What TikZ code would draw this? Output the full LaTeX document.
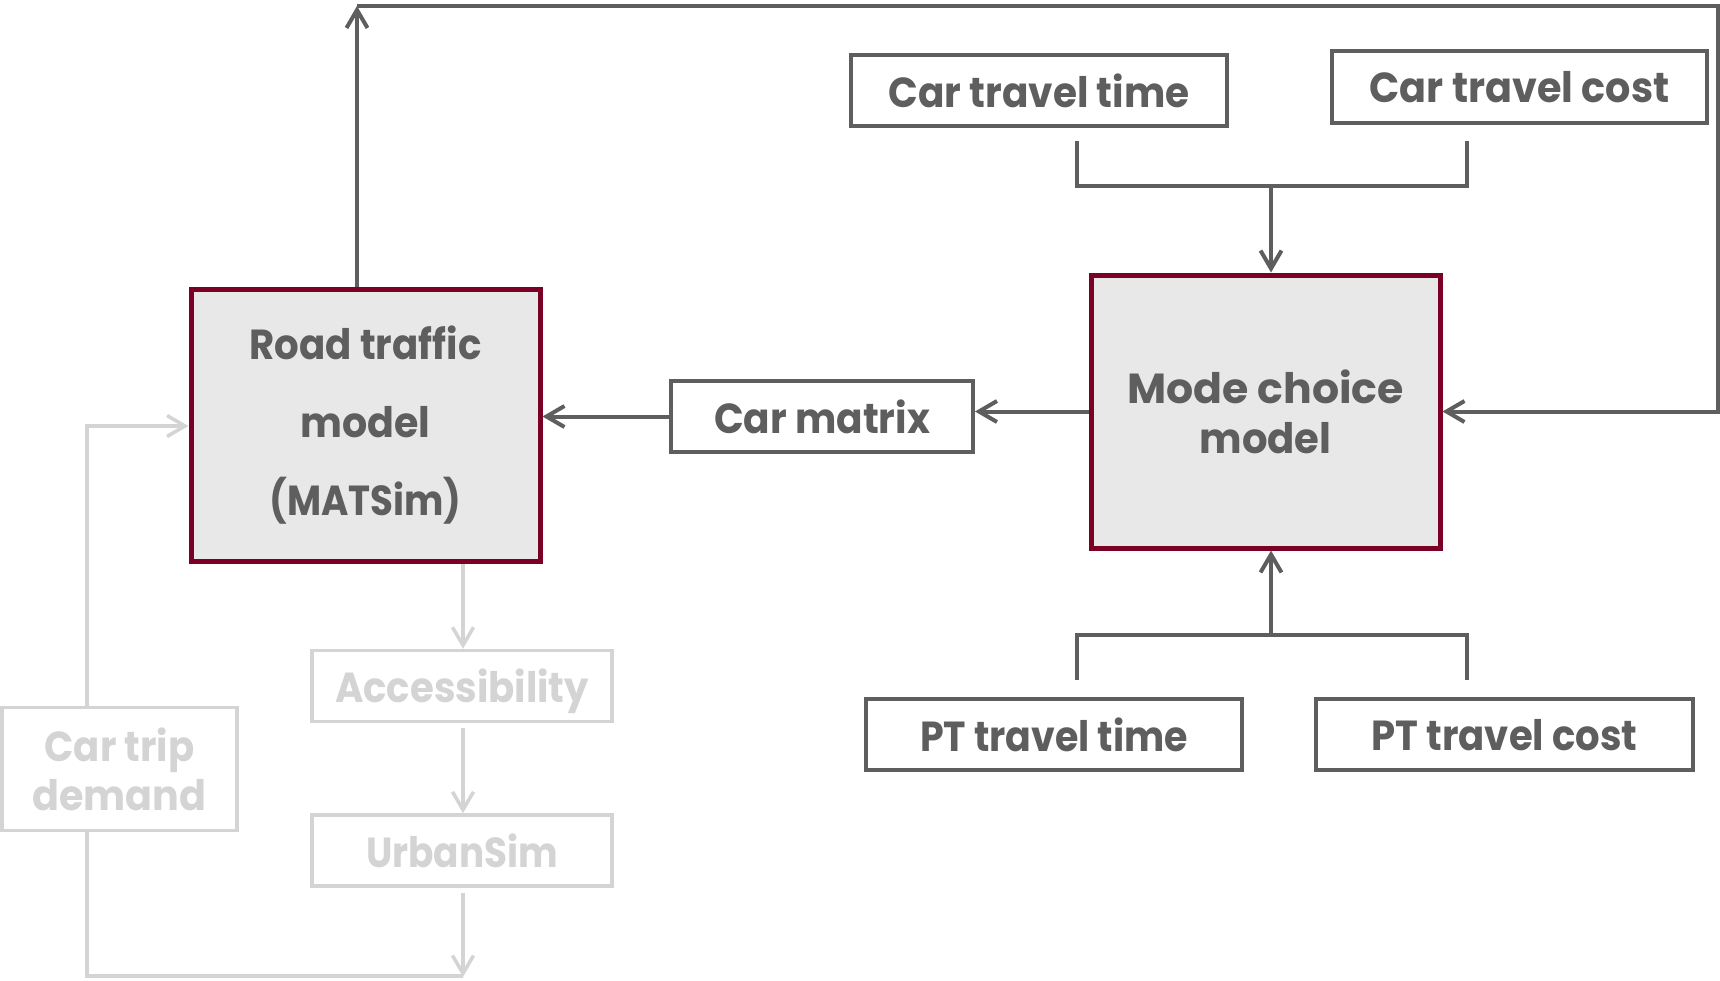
\documentclass[tikz,border=0pt]{standalone}
\usepackage{graphicx}
\usepackage{fontspec}
\setmainfont{Poppins}
\usetikzlibrary{arrows.meta}
\definecolor{dg}{RGB}{94,94,94}
\definecolor{lg}{RGB}{212,212,212}
\definecolor{mar}{RGB}{122,0,38}
\definecolor{boxfill}{RGB}{232,232,232}
\newlength\fitlen
\newcommand\fitw[2]{\settowidth\fitlen{#2}\pgfmathsetmacro\fitr{#1/\fitlen}\scalebox{\fitr}[1]{#2}}
\tikzset{
  mainbox/.style={draw=mar, line width=5pt, fill=boxfill, text=dg, minimum width=349pt, minimum height=272pt, align=center, inner sep=0pt},
  inbox/.style={draw=dg, line width=4pt, fill=white, text=dg, minimum height=71pt, inner sep=0pt, text depth=0pt},
  faint/.style={draw=lg, line width=3.5pt, fill=white, text=lg, minimum height=71pt, inner sep=0pt},
  link/.style={draw=dg, line width=4pt},
  flink/.style={draw=lg, line width=3.5pt},
  arr/.style={-{Straight Barb[length=18pt,width=21pt]}}
}
\begin{document}
\begin{tikzpicture}[x=1pt,y=-1pt,font=\fontsize{42}{50}\selectfont\bfseries]
\useasboundingbox (0,0) rectangle (1720,980);

% main boxes
\node[mainbox, font=\fontsize{42}{78}\selectfont\bfseries] (road) at (365.5,425)
  {\fitw{232}{Road traffic}\\\fitw{130}{model}\\\fitw{192}{(MATSim)}};
\node[mainbox, minimum height=273pt] (mode) at (1265.5,411.5)
  {\fitw{277}{Mode choice}\\\fitw{132}{model}};

% input boxes
\node[inbox, minimum width=376pt] (ctt) at (1039,90.5) {\fitw{301}{Car travel time}};
\node[inbox, minimum width=375pt, minimum height=72pt] (ctc) at (1519.5,86.5) {\fitw{300}{Car travel cost}};
\node[inbox, minimum width=302pt] (cm) at (822,416.5) {\fitw{216}{Car matrix}};
\node[inbox, minimum width=376pt] (ptt) at (1054,734.5) {\fitw{268}{PT travel time}};
\node[inbox, minimum width=377pt] (ptc) at (1504.5,734.5) {\fitw{266}{PT travel cost}};

% faint boxes
\node[faint, minimum width=235pt, minimum height=123pt, align=center, font=\fontsize{42}{49}\selectfont\bfseries] (ctd) at (119.5,769)
  {\fitw{150}{Car trip}\\\fitw{174}{demand}};
\node[faint, minimum width=300pt, text depth=0pt] (acc) at (462,686) {\fitw{254}{Accessibility}};
\node[faint, minimum width=300pt, text depth=0pt] (urb) at (462,850.5) {\fitw{192}{UrbanSim}};

% feedback loop
\coordinate (tl) at (357,6);
\coordinate (tr) at (1718,6);
\draw[link,arr] (road.north -| tl) -- (tl);
\draw[link,arr] (tl) -- (tr) |- (mode.east);

% mode choice -> car matrix -> road traffic
\draw[link,arr] (mode.west) -- (mode.west -| cm.east);
\draw[link,arr] (cm.west) -- (cm.west -| road.east);

% car bracket
\coordinate (cb1) at (1077,141);
\coordinate (cb2) at (1467,141);
\coordinate (cbm) at (1271,186);
\draw[link] (cb1) |- (cbm) -| (cb2);
\draw[link,arr] (cbm) -- (mode.north -| cbm);

% PT bracket
\coordinate (pb1) at (1077,680);
\coordinate (pb2) at (1467,680);
\coordinate (pbm) at (1271,635);
\draw[link] (pb1) |- (pbm) -| (pb2);
\draw[link,arr] (pbm) -- (mode.south -| pbm);

% faint connectors
\coordinate (fl) at (87,426);
\draw[flink,arr] (ctd.north -| fl) -- (fl) -- (fl -| road.west);
\coordinate (fb) at (87,976);
\coordinate (fbr) at (463,977);
\draw[flink] (ctd.south -| fb) -- (fb) -- (fb -| fbr);
\draw[flink,arr] (road.south -| fbr) -- (acc.north -| fbr);
\draw[flink,arr] ([yshift=-5pt]acc.south -| fbr) -- (urb.north -| fbr);
\draw[flink,arr] ([yshift=-5pt]urb.south -| fbr) -- (fbr);
\end{tikzpicture}
\end{document}
